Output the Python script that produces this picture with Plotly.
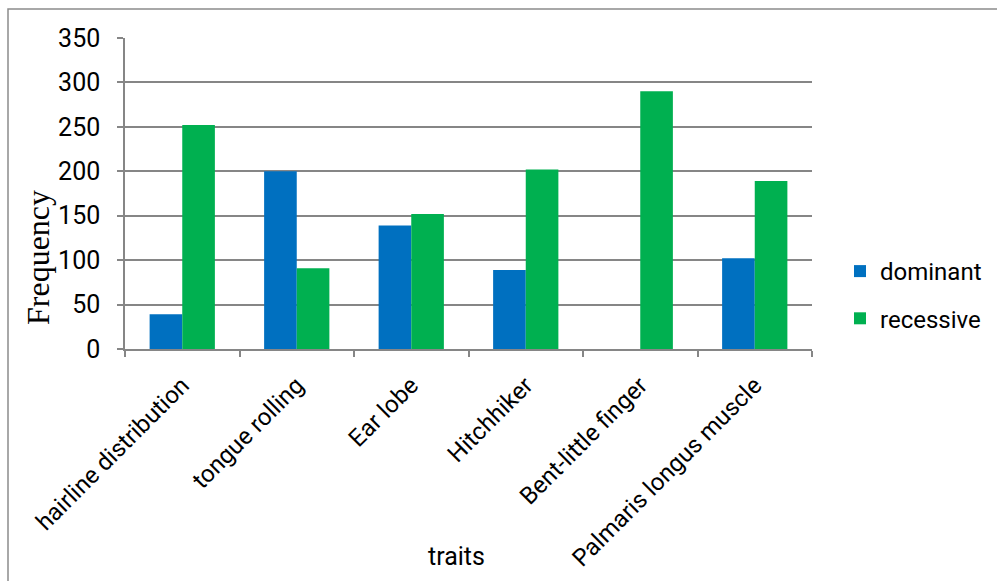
import plotly.graph_objects as go

categories = ["hairline distribution", "tongue rolling", "Ear lobe", "Hitchhiker",
              "Bent-little finger", "Palmaris longus muscle"]
dominant = [39, 200, 139, 89, 0, 102]
recessive = [252, 91, 152, 202, 290, 189]
y_ticks = [0, 50, 100, 150, 200, 250, 300, 350]

W, H = 997, 581
ml, mr, mt, mb = 125, 185, 38, 232
pw, ph = W - ml - mr, H - mt - mb

fig = go.Figure()
fig.add_trace(go.Bar(x=categories, y=dominant, name="dominant",
                     marker=dict(color="#0070C0", line=dict(width=0)),
                     legendgroup="d"))
fig.add_trace(go.Bar(x=categories, y=recessive, name="recessive",
                     marker=dict(color="#00B050", line=dict(width=0)),
                     legendgroup="r"))

def px_x(x):
    return (x - ml) / pw

def px_y(y):
    return (H - mb - y) / ph

fig.update_layout(
    width=W, height=H,
    margin=dict(l=ml, r=mr, t=mt, b=mb, autoexpand=False),
    paper_bgcolor="white", plot_bgcolor="white",
    barmode="group", bargap=0.43, bargroupgap=0,
    font=dict(family="Roboto", color="black"),
    legend=dict(x=px_x(840), y=px_y(249), xanchor="left", yanchor="top",
                font=dict(size=24, family="Roboto"), tracegroupgap=13,
                bgcolor="rgba(0,0,0,0)"),
    xaxis=dict(
        tickangle=-45, tickfont=dict(size=24, family="Roboto"),
        showline=True, linecolor="#868686", linewidth=1.5,
        ticks="outside", tickson="boundaries", ticklen=6, tickcolor="#868686",
        tickwidth=1.5, showgrid=False, ticklabelstandoff=11, automargin=False,
    ),
    yaxis=dict(
        range=[0, 350], tickvals=y_ticks, tickfont=dict(size=25, family="Roboto"),
        showline=True, linecolor="#868686", linewidth=1.5,
        ticks="outside", ticklen=6, tickcolor="#868686", tickwidth=1.5,
        showgrid=True, gridcolor="#868686", gridwidth=1.5, zeroline=False,
        ticklabelstandoff=12, automargin=False,
    ),
    annotations=[
        dict(text="Frequency", xref="paper", yref="paper", x=px_x(38), y=px_y(258),
             xanchor="center", yanchor="middle", textangle=-90, showarrow=False,
             font=dict(size=32, family="Liberation Serif", color="black")),
        dict(text="traits", xref="paper", yref="paper", x=px_x(456), y=px_y(556),
             xanchor="center", yanchor="middle", showarrow=False,
             font=dict(size=25, family="Roboto", color="black")),
    ],
    shapes=[dict(type="rect", xref="paper", yref="paper",
                 x0=px_x(8), x1=px_x(1005), y0=px_y(600), y1=px_y(9),
                 line=dict(color="#8c8c8c", width=1.5), fillcolor="rgba(0,0,0,0)",
                 layer="below")],
)

fig.write_html("out.html")
